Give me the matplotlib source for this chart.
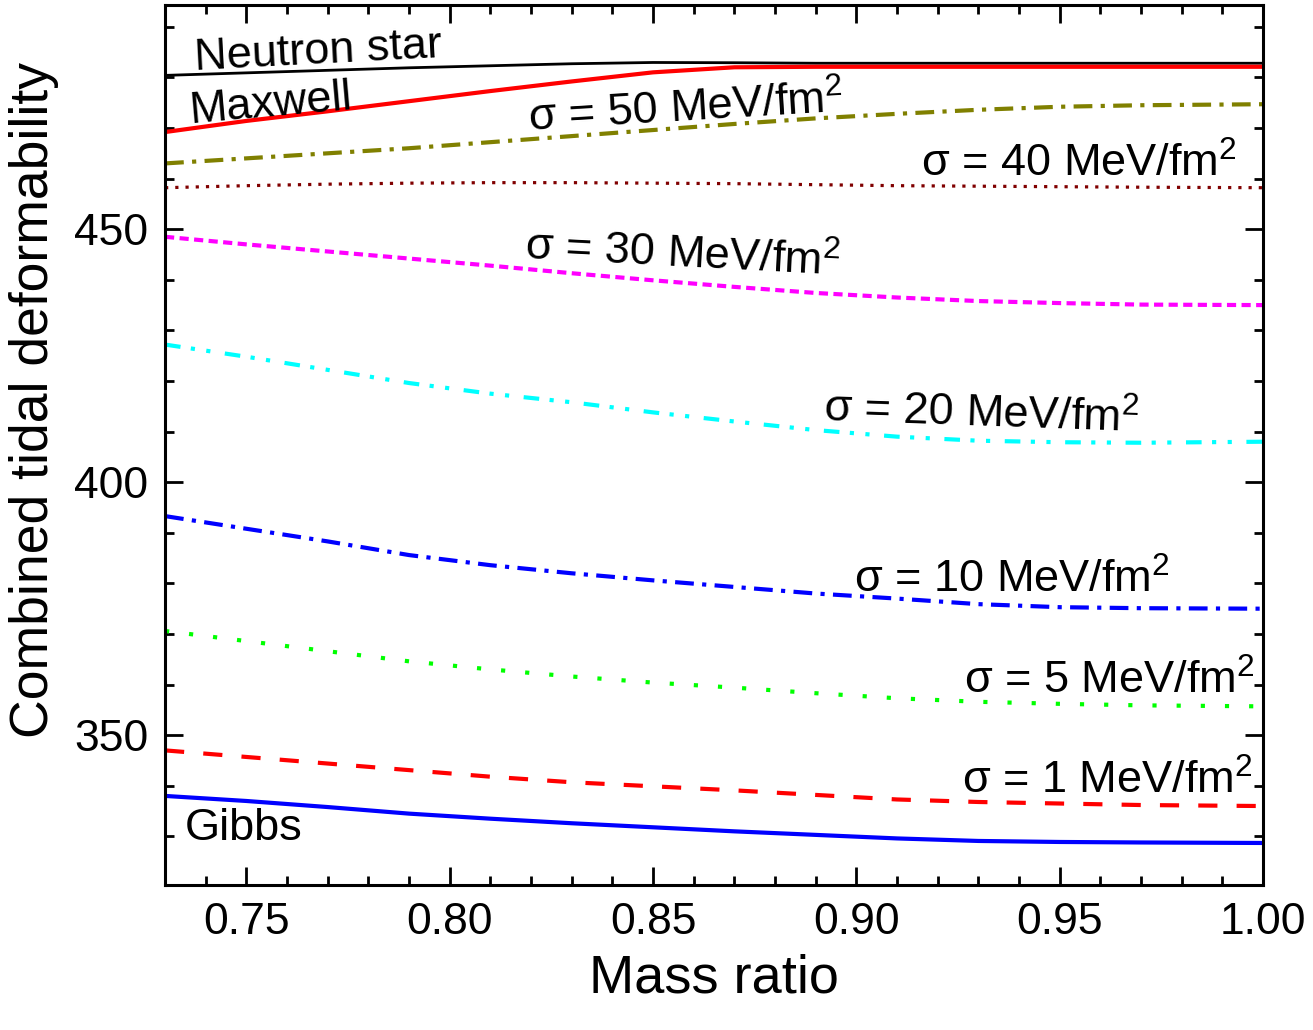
import matplotlib
matplotlib.use("Agg")
import matplotlib.pyplot as plt
from matplotlib.ticker import MultipleLocator

plt.rcParams['font.family'] = ['Liberation Sans', 'DejaVu Sans']
plt.rcParams['mathtext.fontset'] = 'custom'
plt.rcParams['mathtext.rm'] = 'Liberation Sans'
plt.rcParams['mathtext.it'] = 'Liberation Sans'

mass_ratio = [0.73, 0.75, 0.77, 0.79, 0.81, 0.83, 0.85, 0.87, 0.89, 0.91, 0.93, 0.95, 0.97, 1.00]

neutron_star = [480.4, 480.9, 481.4, 481.9, 482.3, 482.7, 482.95, 482.9, 482.8, 482.8, 482.8, 482.8, 482.8, 482.8]
maxwell = [469.2, 471.4, 473.3, 475.3, 477.3, 479.2, 481.0, 482.0, 482.1, 482.1, 482.1, 482.1, 482.1, 482.1]
sigma50 = [463.0, 464.0, 465.0, 466.0, 467.2, 468.4, 469.6, 470.8, 471.9, 472.8, 473.6, 474.2, 474.5, 474.7]
sigma40 = [458.2, 458.6, 458.9, 459.1, 459.2, 459.2, 459.1, 459.0, 458.8, 458.6, 458.5, 458.4, 458.3, 458.2]
sigma30 = [448.5, 447.0, 445.6, 444.2, 442.8, 441.3, 439.9, 438.6, 437.4, 436.5, 435.8, 435.4, 435.1, 435.0]
sigma20 = [427.2, 424.8, 422.2, 419.6, 417.5, 415.8, 413.8, 412.0, 410.3, 409.0, 408.2, 407.9, 407.8, 408.0]
sigma10 = [393.3, 390.8, 388.3, 385.6, 383.6, 382.0, 380.6, 379.3, 378.0, 377.0, 375.9, 375.3, 375.1, 375.0]
sigma5 = [370.6, 368.6, 366.6, 364.6, 363.0, 361.6, 360.4, 359.4, 358.3, 357.3, 356.6, 356.2, 355.9, 355.7]
sigma1 = [347.0, 345.7, 344.4, 343.1, 341.8, 340.7, 339.9, 339.1, 338.2, 337.3, 336.8, 336.5, 336.2, 336.0]
gibbs = [338.0, 337.0, 335.8, 334.5, 333.5, 332.6, 331.8, 331.0, 330.3, 329.6, 329.1, 328.9, 328.8, 328.7]

fig = plt.figure(figsize=(13.13, 10.30), dpi=100)
ax = fig.add_axes([0.1257, 0.1408, 0.8362, 0.8543])

ax.plot(mass_ratio, neutron_star, color='black', lw=2.0)
ax.plot(mass_ratio, maxwell, color='#ff0000', lw=3.0)
ax.plot(mass_ratio, sigma50, color='#808000', lw=3.0, dashes=(4.5, 2, 1, 2))
ax.plot(mass_ratio, sigma40, color='#800000', lw=2.3, dashes=(1, 2.2))
ax.plot(mass_ratio, sigma30, color='#ff00ff', lw=3.0, dashes=(2.2, 1.3))
ax.plot(mass_ratio, sigma20, color='#00ffff', lw=3.0, dashes=(3.75, 2.5, 1, 2.75, 1, 3.5))
ax.plot(mass_ratio, sigma10, color='#0000ff', lw=3.0, dashes=(4.5, 2, 1, 2))
ax.plot(mass_ratio, sigma5, color='#00ff00', lw=3.0, dashes=(1, 4.8))
ax.plot(mass_ratio, sigma1, color='#ff0000', lw=3.0, dashes=(4.6, 4.6))
ax.plot(mass_ratio, gibbs, color='#0000ff', lw=3.0)

ax.set_xlim(0.73, 1.00)
ax.set_ylim(320.4, 494.3)
ax.xaxis.set_minor_locator(MultipleLocator(0.01))
ax.yaxis.set_minor_locator(MultipleLocator(10))
ax.set_xticks([0.75, 0.80, 0.85, 0.90, 0.95, 1.00])
ax.set_xticklabels(['0.75', '0.80', '0.85', '0.90', '0.95', '1.00'])
ax.set_yticks([350, 400, 450])
ax.set_yticklabels(['350', '400', '450'])

ax.tick_params(which='both', direction='in', top=True, right=True, width=2.0,
               labelsize=32, pad=12)
ax.tick_params(which='major', length=13)
ax.tick_params(which='minor', length=6.5)
for s in ax.spines.values():
    s.set_linewidth(2.2)

ax.set_xlabel('Mass ratio', fontsize=39, labelpad=8)
ax.set_ylabel('Combined tidal deformability', fontsize=38.5)
ax.yaxis.set_label_coords(-0.0965, 0.551)

lab = dict(fontsize=32.5, ha='left', va='baseline', rotation_mode='anchor')
ax.text(0.7374, 481.4, 'Neutron star', rotation=3, **lab)
ax.text(0.7362, 470.9, 'Maxwell', rotation=5, **lab)
ax.text(0.8194, 469.2, 'σ = 50 MeV/fm$^2$', rotation=3.5, **lab)
ax.text(0.916, 460.3, 'σ = 40 MeV/fm$^2$', rotation=0, **lab)
ax.text(0.8182, 443.9, 'σ = 30 MeV/fm$^2$', rotation=-3, **lab)
ax.text(0.8918, 411.9, 'σ = 20 MeV/fm$^2$', rotation=-2, **lab)
ax.text(0.8995, 378.1, 'σ = 10 MeV/fm$^2$', rotation=0, **lab)
ax.text(0.9265, 358.2, 'σ = 5 MeV/fm$^2$', rotation=0, **lab)
ax.text(0.926, 338.5, 'σ = 1 MeV/fm$^2$', rotation=0, **lab)
ax.text(0.7349, 329.3, 'Gibbs', rotation=0, **lab)

fig.savefig('out.png', dpi=100)
